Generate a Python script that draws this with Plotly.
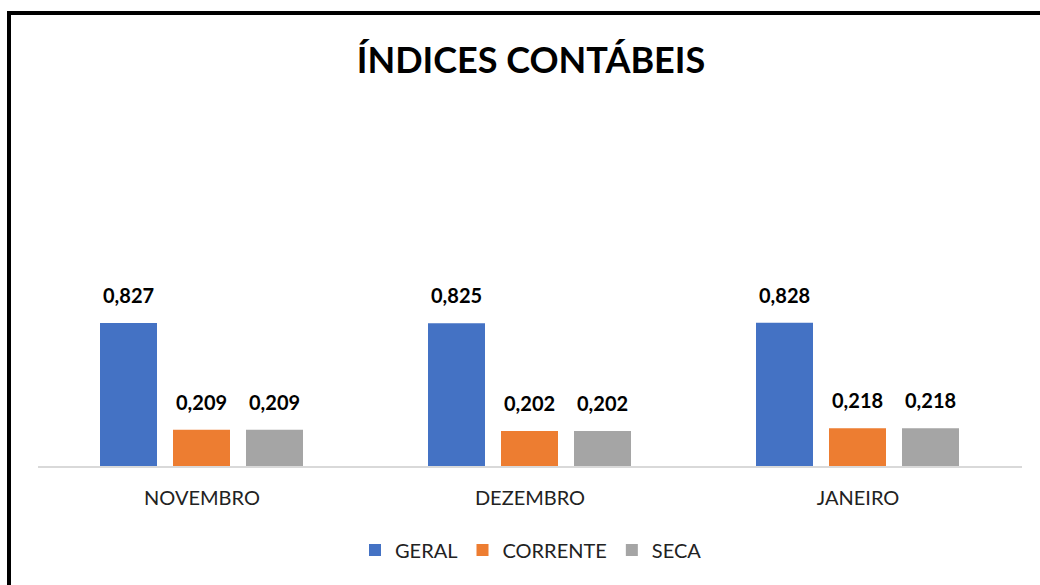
import plotly.graph_objects as go

categories = ["NOVEMBRO", "DEZEMBRO", "JANEIRO"]
geral = [0.827, 0.825, 0.828]
corrente = [0.209, 0.202, 0.218]
seca = [0.209, 0.202, 0.218]

series = [("GERAL", geral, "#4472C4"), ("CORRENTE", corrente, "#ED7D31"), ("SECA", seca, "#A5A5A5")]

W, H = 1040, 585
L, R, T, B = 38, 1022, 293, 466
pw, ph = R - L, B - T
catw = pw / 3
bar_w = 57 / catw
centers_px = [-73.5, -0.5, 72.5]
offsets = [(c - 28.5) / catw for c in centers_px]
FONT = "Lato, Open Sans, sans-serif"

fig = go.Figure()
annotations = []
for (name, vals, color), off, cpx in zip(series, offsets, centers_px):
    fig.add_trace(go.Bar(
        name=name, x=categories, y=vals, marker=dict(color=color, line=dict(width=0)),
        width=bar_w, offset=off,
    ))
    for i, v in enumerate(vals):
        annotations.append(dict(
            x=i + cpx / catw, y=v, xref="x", yref="y", text="<b>" + f"{v:.3f}".replace(".", ",") + "</b>",
            showarrow=False, yanchor="bottom", yshift=14,
            font=dict(family=FONT, size=20, color="black"),
        ))

fig.update_layout(
    width=W, height=H, barmode="overlay", separators=",.",
    paper_bgcolor="white", plot_bgcolor="white",
    margin=dict(l=L, r=W - R, t=T, b=H - B, pad=0),
    title=dict(text="<b>ÍNDICES CONTÁBEIS</b>", x=531 / W, xanchor="center",
               y=1 - 60 / H, yanchor="middle",
               font=dict(family=FONT, size=36, color="black")),
    xaxis=dict(showline=True, linecolor="#D9D9D9", linewidth=2, ticks="outside", ticklen=13,
               tickcolor="rgba(0,0,0,0)", showgrid=False,
               tickfont=dict(family=FONT, size=20, color="#222")),
    yaxis=dict(range=[0, 1], visible=False, showgrid=False),
    legend=dict(orientation="h", x=(531 - L) / pw, xref="paper", xanchor="center",
                y=-(550 - B) / ph, yanchor="middle", traceorder="normal",
                font=dict(family=FONT, size=20, color="#222"),
                itemwidth=30),
    annotations=annotations,
    shapes=[
        dict(type="line", xref="paper", yref="paper",
             x0=(9 - L) / pw, x1=(1200 - L) / pw, y0=(B - 13) / ph, y1=(B - 13) / ph,
             line=dict(color="black", width=4)),
        dict(type="line", xref="paper", yref="paper",
             x0=(9 - L) / pw, x1=(9 - L) / pw, y0=-(800 - B) / ph, y1=(B - 11) / ph,
             line=dict(color="black", width=4)),
    ],
)
fig.write_html("out.html", config={"displayModeBar": False},
               post_script="document.body.style.margin='0';document.body.style.overflow='hidden';")
